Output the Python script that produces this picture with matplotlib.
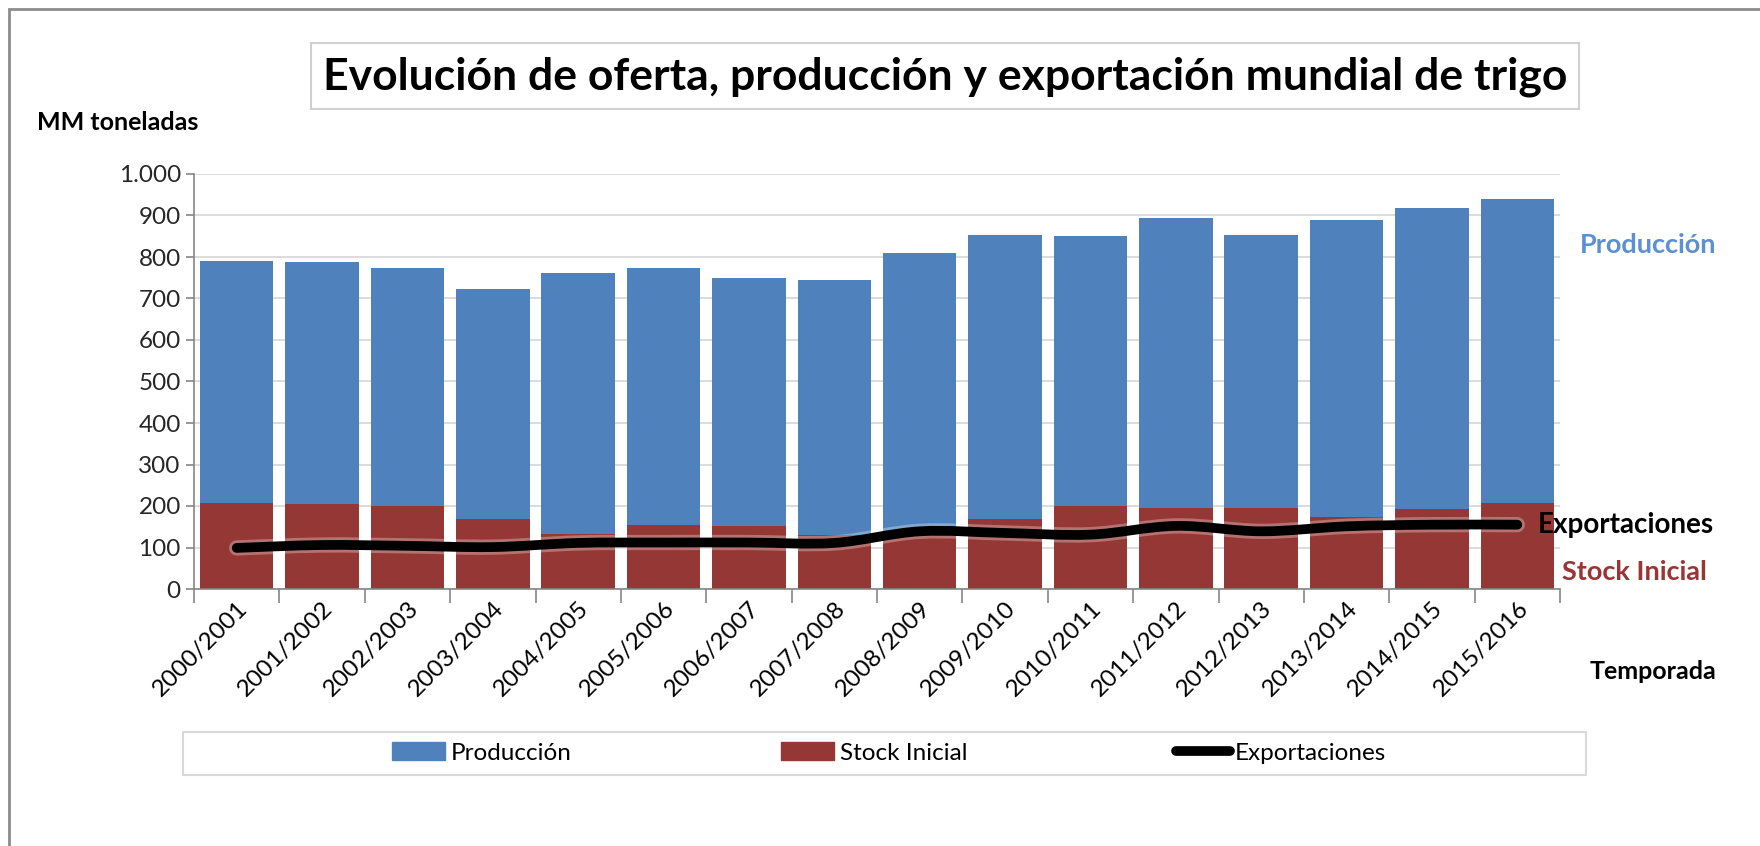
import matplotlib.pyplot as plt
import numpy as np
from matplotlib.patches import Rectangle, PathPatch, Patch
from matplotlib.path import Path
from matplotlib.lines import Line2D
from matplotlib.ticker import FuncFormatter
import matplotlib.patheffects as pe

plt.rcParams['font.family'] = ['Lato', 'DejaVu Sans']

temporadas = ['2000/2001', '2001/2002', '2002/2003', '2003/2004', '2004/2005',
              '2005/2006', '2006/2007', '2007/2008', '2008/2009', '2009/2010',
              '2010/2011', '2011/2012', '2012/2013', '2013/2014', '2014/2015',
              '2015/2016']
# oferta total = stock inicial + produccion (tope de la barra)
oferta = [791, 788, 773, 724, 761, 773, 749, 745, 809, 853,
          850, 893, 853, 890, 917, 939]
stock_inicial = [207, 205, 201, 168, 133, 155, 152, 129, 134, 168,
                 201, 195, 195, 174, 192, 208]
exportaciones = [99, 106, 104, 101, 111, 112, 112, 111, 139, 135,
                 131, 152, 139, 151, 155, 155]

produccion = [o - s for o, s in zip(oferta, stock_inicial)]

azul = '#4f81bd'
rojo = '#953735'

W, H = 1760, 846
fig = plt.figure(figsize=(W / 100, H / 100), dpi=100)

# marco exterior
top_marco = 1 - 9 / H
fig.patches.append(Rectangle((9 / W, -0.1), 1.2, top_marco + 0.1,
                             transform=fig.transFigure, fill=False,
                             ec='#8c8c8c', lw=2))

ax = fig.add_axes([194 / W, (H - 589) / H, (1560 - 194) / W, (589 - 174) / H])

x = np.arange(len(temporadas))
ax.bar(x, stock_inicial, width=0.86, color=rojo, zorder=2)
ax.bar(x, produccion, width=0.86, bottom=stock_inicial, color=azul, zorder=2)

# linea suavizada de exportaciones (bezier a traves de los puntos)
pts = np.column_stack([x, exportaciones]).astype(float)
verts = [tuple(pts[0])]
codes = [Path.MOVETO]
n = len(pts)
for i in range(n - 1):
    p0 = pts[max(i - 1, 0)]
    p1 = pts[i]
    p2 = pts[i + 1]
    p3 = pts[min(i + 2, n - 1)]
    c1 = p1 + (p2 - p0) / 6
    c2 = p2 - (p3 - p1) / 6
    verts += [tuple(c1), tuple(c2), tuple(p2)]
    codes += [Path.CURVE4] * 3
curva = PathPatch(Path(verts, codes), fill=False, ec='black', lw=7,
                  capstyle='round', joinstyle='round', zorder=4)
curva.set_path_effects([pe.Stroke(linewidth=11, foreground='white', alpha=0.3),
                        pe.Normal()])
ax.add_patch(curva)

ax.set_xlim(-0.5, len(temporadas) - 0.5)
ax.set_ylim(0, 1000)
ax.set_yticks(np.arange(0, 1001, 100))
ax.yaxis.set_major_formatter(FuncFormatter(lambda v, p: f'{int(v):,}'.replace(',', '.')))
ax.grid(axis='y', color='#d9d9d9', lw=1.3, zorder=0)
ax.set_axisbelow(True)

ax.set_xticks(x)
ax.set_xticklabels(temporadas, rotation=45, ha='right', rotation_mode='anchor')
ax.set_xticks(np.arange(-0.5, len(temporadas)), minor=True)
ax.tick_params(axis='x', which='major', length=0, pad=6, labelsize=17.5)
ax.tick_params(axis='x', which='minor', length=10, color='#868686', width=1.2)
ax.tick_params(axis='y', length=6, color='#868686', width=1.2, labelsize=17.5,
               labelcolor='#262626')
for s in ['top', 'right']:
    ax.spines[s].set_visible(False)
for s in ['left', 'bottom']:
    ax.spines[s].set_color('#868686')
    ax.spines[s].set_linewidth(1.2)

# titulo en recuadro
fig.patches.append(Rectangle((311 / W, 1 - 109 / H), (1579 - 311) / W, 66 / H,
                             transform=fig.transFigure, fc='white',
                             ec='#d0d0d0', lw=1.5))
fig.text(945 / W, 1 - 77 / H,
         'Evolución de oferta, producción y exportación mundial de trigo',
         ha='center', va='center', fontsize=32, fontweight='bold')

fig.text(37 / W, 1 - 123 / H, 'MM toneladas', ha='left', va='center',
         fontsize=18, fontweight='bold')
fig.text(1590 / W, 1 - 671 / H, 'Temporada', ha='left', va='center',
         fontsize=18, fontweight='bold')
fig.text(1580 / W, 1 - 245 / H, 'Producción', ha='left', va='center',
         fontsize=19.5, fontweight='bold', color='#5b8fd6')
fig.text(1538 / W, 1 - 525 / H, 'Exportaciones', ha='left', va='center',
         fontsize=20, fontweight='bold', color='black')
fig.text(1562 / W, 1 - 572 / H, 'Stock Inicial', ha='left', va='center',
         fontsize=19.5, fontweight='bold', color='#9b3434')

# leyenda
fig.patches.append(Rectangle((183 / W, 1 - 775 / H), (1586 - 183) / W, 43 / H,
                             transform=fig.transFigure, fc='white',
                             ec='#d9d9d9', lw=1.5))
handles = [Patch(fc=azul, ec=azul), Patch(fc=rojo, ec=rojo),
           Line2D([], [], color='black', lw=7, solid_capstyle='round')]
fig.legend(handles, ['Producción', 'Stock Inicial', 'Exportaciones'],
           loc='center', bbox_to_anchor=(889 / W, 1 - 753 / H), ncol=3,
           frameon=False, fontsize=17.5, handlelength=2.2, handletextpad=0.23,
           columnspacing=8.6)

fig.savefig('out.png', dpi=100)
